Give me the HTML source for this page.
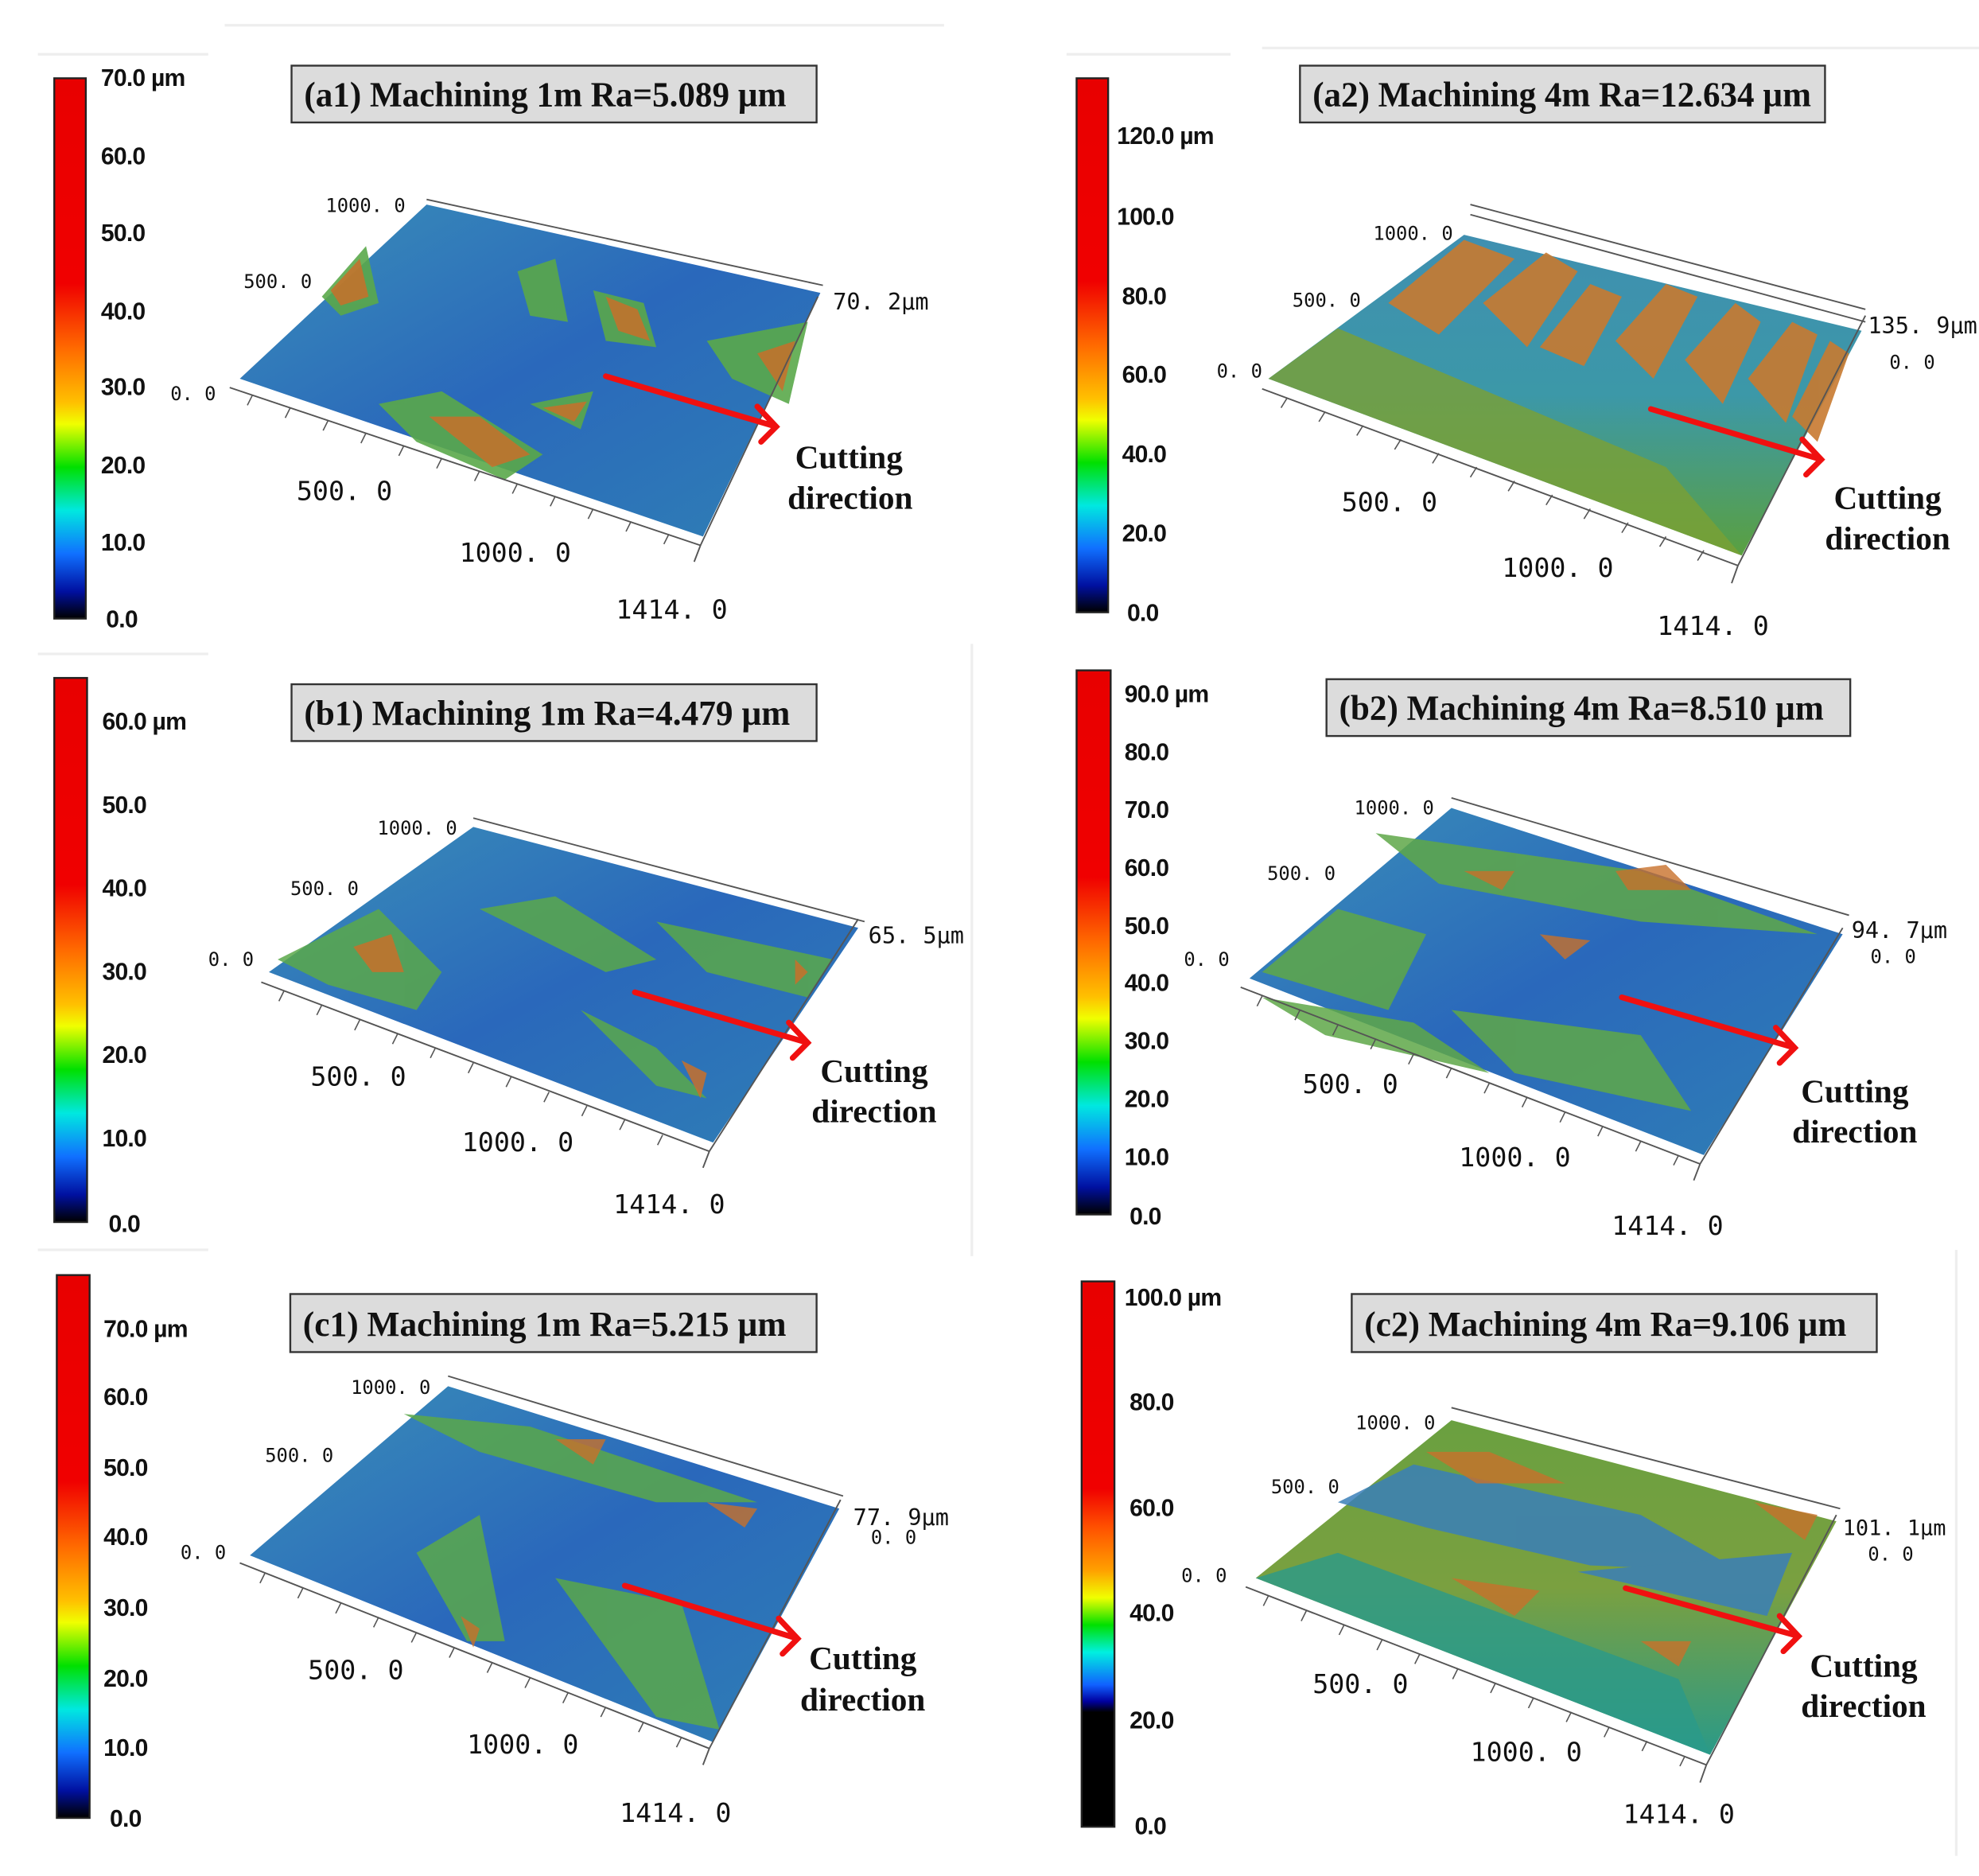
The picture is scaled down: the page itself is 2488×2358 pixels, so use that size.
<!DOCTYPE html>
<html><head><meta charset="utf-8"><style>
html,body{margin:0;padding:0;background:#fff}
svg{display:block}
.t{font-family:"Liberation Serif",serif;font-weight:bold;font-size:28px;fill:#111}
.cb{font-family:"Liberation Sans",sans-serif;font-weight:bold;font-size:19px;fill:#111;letter-spacing:-0.5px}
.ax{font-family:"DejaVu Sans Mono","Liberation Mono",monospace;font-size:21px;fill:#111}
.axs{font-family:"DejaVu Sans Mono","Liberation Mono",monospace;font-size:15px;fill:#111}
.cd{font-family:"Liberation Serif",serif;font-weight:bold;font-size:26px;fill:#111}
</style></head><body>
<svg width="2488" height="2358" viewBox="0 0 1568 1486" preserveAspectRatio="none" xmlns="http://www.w3.org/2000/svg">
<defs>
<linearGradient id="g1" x1="0" y1="0" x2="0" y2="1">
<stop offset="0" stop-color="#e80000"/><stop offset="0.38" stop-color="#f00000"/><stop offset="0.5" stop-color="#ff6a00"/><stop offset="0.6" stop-color="#ffc000"/><stop offset="0.64" stop-color="#f0ff00"/><stop offset="0.72" stop-color="#00e000"/><stop offset="0.8" stop-color="#00e8e0"/><stop offset="0.88" stop-color="#1070ff"/><stop offset="0.95" stop-color="#0010a0"/><stop offset="1" stop-color="#000"/>
</linearGradient>
<linearGradient id="g2" x1="0" y1="0" x2="0" y2="1">
<stop offset="0" stop-color="#e80000"/><stop offset="0.38" stop-color="#f00000"/><stop offset="0.45" stop-color="#ff5000"/><stop offset="0.53" stop-color="#ffa000"/><stop offset="0.58" stop-color="#f0ff00"/><stop offset="0.63" stop-color="#00e000"/><stop offset="0.68" stop-color="#00f0e0"/><stop offset="0.74" stop-color="#1060ff"/><stop offset="0.77" stop-color="#0000a0"/><stop offset="0.79" stop-color="#000"/><stop offset="1" stop-color="#000"/>
</linearGradient>
<linearGradient id="s1" x1="0" y1="0" x2="1" y2="1">
<stop offset="0" stop-color="#3a8fb8"/><stop offset="0.5" stop-color="#2a68bb"/><stop offset="1" stop-color="#2f7fb5"/>
</linearGradient>
<linearGradient id="s2" x1="0" y1="0" x2="0" y2="1">
<stop offset="0" stop-color="#3f8fb0"/><stop offset="0.5" stop-color="#3c98a8"/><stop offset="1" stop-color="#5aa040"/>
</linearGradient>
<linearGradient id="s3" x1="0" y1="0" x2="0" y2="1">
<stop offset="0" stop-color="#6aa040"/><stop offset="0.5" stop-color="#7aa040"/><stop offset="1" stop-color="#2a9a88"/>
</linearGradient>
</defs>
<rect width="1568" height="1486" fill="#fff"/>
<g stroke="#eee" stroke-width="2"><line x1="178" y1="20" x2="748" y2="20"/><line x1="30" y1="43" x2="165" y2="43"/><line x1="845" y1="43" x2="975" y2="43"/><line x1="1000" y1="38" x2="1568" y2="38"/><line x1="30" y1="518" x2="165" y2="518"/><line x1="30" y1="990" x2="165" y2="990"/><line x1="770" y1="510" x2="770" y2="995"/><line x1="1550" y1="990" x2="1550" y2="1470"/></g>

<g stroke="#222" stroke-width="1.5">
<rect x="43" y="62" width="25" height="428" fill="url(#g1)"/>
<rect x="853" y="62" width="25" height="423" fill="url(#g1)"/>
<rect x="43" y="537" width="26" height="431" fill="url(#g1)"/>
<rect x="853" y="531" width="27" height="431" fill="url(#g1)"/>
<rect x="45" y="1010" width="26" height="430" fill="url(#g1)"/>
<rect x="857" y="1015" width="26" height="432" fill="url(#g2)"/>
</g>
<g class="cb">
<text x="80" y="68">70.0 µm</text><text x="80" y="130">60.0</text><text x="80" y="191">50.0</text><text x="80" y="253">40.0</text><text x="80" y="313">30.0</text><text x="80" y="375">20.0</text><text x="80" y="436">10.0</text><text x="84" y="497">0.0</text>
<text x="885" y="114">120.0 µm</text><text x="885" y="178">100.0</text><text x="889" y="241">80.0</text><text x="889" y="303">60.0</text><text x="889" y="366">40.0</text><text x="889" y="429">20.0</text><text x="893" y="492">0.0</text>
<text x="81" y="578">60.0 µm</text><text x="81" y="644">50.0</text><text x="81" y="710">40.0</text><text x="81" y="776">30.0</text><text x="81" y="842">20.0</text><text x="81" y="908">10.0</text><text x="86" y="976">0.0</text>
<text x="891" y="556">90.0 µm</text><text x="891" y="602">80.0</text><text x="891" y="648">70.0</text><text x="891" y="694">60.0</text><text x="891" y="740">50.0</text><text x="891" y="785">40.0</text><text x="891" y="831">30.0</text><text x="891" y="877">20.0</text><text x="891" y="923">10.0</text><text x="895" y="970">0.0</text>
<text x="82" y="1059">70.0 µm</text><text x="82" y="1113">60.0</text><text x="82" y="1169">50.0</text><text x="82" y="1224">40.0</text><text x="82" y="1280">30.0</text><text x="82" y="1336">20.0</text><text x="82" y="1391">10.0</text><text x="87" y="1447">0.0</text>
<text x="891" y="1034">100.0 µm</text><text x="895" y="1117">80.0</text><text x="895" y="1201">60.0</text><text x="895" y="1284">40.0</text><text x="895" y="1369">20.0</text><text x="899" y="1453">0.0</text>
</g>

<g fill="#dcdcdc" stroke="#333" stroke-width="1.5">
<rect x="231" y="52" width="416" height="45"/><rect x="1030" y="52" width="416" height="45"/>
<rect x="231" y="542" width="416" height="45"/><rect x="1051" y="538" width="415" height="45"/>
<rect x="230" y="1025" width="417" height="46"/><rect x="1071" y="1025" width="416" height="46"/>
</g>
<g class="t">
<text x="241" y="84" textLength="382" lengthAdjust="spacingAndGlyphs">(a1)  Machining 1m Ra=5.089 µm</text>
<text x="1040" y="84" textLength="395" lengthAdjust="spacingAndGlyphs">(a2)  Machining 4m Ra=12.634 µm</text>
<text x="241" y="574" textLength="385" lengthAdjust="spacingAndGlyphs">(b1)  Machining 1m Ra=4.479 µm</text>
<text x="1061" y="570" textLength="384" lengthAdjust="spacingAndGlyphs">(b2)  Machining 4m Ra=8.510 µm</text>
<text x="240" y="1058" textLength="383" lengthAdjust="spacingAndGlyphs">(c1)  Machining 1m Ra=5.215 µm</text>
<text x="1081" y="1058" textLength="382" lengthAdjust="spacingAndGlyphs">(c2)  Machining 4m Ra=9.106 µm</text>
</g>

<polygon points="190,300 338,162 650,232 557,425" fill="url(#s1)"/>
<g fill="#5aa84a" opacity="0.9">
<polygon points="255,235 290,195 300,240 270,250"/><polygon points="410,215 440,205 450,255 420,250"/><polygon points="470,230 510,240 520,275 480,270"/>
<polygon points="300,320 350,310 430,360 400,380 330,350"/><polygon points="560,270 640,255 625,320 580,300"/><polygon points="420,320 470,310 460,340"/>
</g>
<g fill="#c8702a" opacity="0.85">
<polygon points="262,230 285,205 292,235 270,242"/><polygon points="480,235 505,245 515,270 490,262"/><polygon points="340,330 380,330 420,360 390,370"/><polygon points="430,323 465,318 455,334"/><polygon points="600,280 630,270 620,310"/>
</g>
<polygon points="1005,300 1160,186 1475,262 1380,440" fill="url(#s2)"/>
<g fill="#c87a30" opacity="0.9">
<polygon points="1100,240 1160,190 1200,205 1140,265"/><polygon points="1175,240 1225,200 1250,215 1210,275"/><polygon points="1220,275 1260,225 1285,235 1255,290"/>
<polygon points="1280,270 1320,225 1345,235 1310,300"/><polygon points="1335,285 1375,240 1395,255 1365,320"/><polygon points="1385,300 1420,255 1440,265 1415,335"/><polygon points="1420,330 1450,270 1465,280 1440,350"/>
</g>
<polygon points="1005,300 1060,260 1320,370 1380,440" fill="#7aa035" opacity="0.8"/>
<polygon points="213,770 375,655 680,735 565,905" fill="url(#s1)"/>
<g fill="#5aa84a" opacity="0.85">
<polygon points="220,760 300,720 350,770 330,800 260,780"/><polygon points="380,720 440,710 520,760 480,770"/><polygon points="460,800 520,830 560,870 520,860"/><polygon points="520,730 660,760 640,790 560,770"/>
</g>
<g fill="#c8702a" opacity="0.85"><polygon points="280,750 310,740 320,770 295,770"/><polygon points="540,840 560,850 555,870"/><polygon points="630,760 640,770 630,780"/></g>
<polygon points="990,775 1150,640 1460,740 1350,915" fill="url(#s1)"/>
<g fill="#5fa848" opacity="0.85">
<polygon points="1000,770 1060,720 1130,740 1100,800"/><polygon points="1090,660 1300,690 1440,740 1300,730 1140,700"/><polygon points="1150,800 1300,820 1340,880 1200,850"/><polygon points="1000,790 1120,810 1180,850 1050,820"/>
</g>
<g fill="#c8702a" opacity="0.8"><polygon points="1280,690 1320,685 1340,705 1290,705"/><polygon points="1160,690 1200,690 1190,705"/><polygon points="1220,740 1260,745 1240,760"/></g>
<polygon points="198,1232 355,1098 665,1195 565,1380" fill="url(#s1)"/>
<g fill="#5aa84a" opacity="0.85">
<polygon points="320,1120 420,1130 600,1190 520,1190 380,1150"/><polygon points="330,1230 380,1200 400,1300 370,1300"/><polygon points="440,1250 540,1270 570,1370 520,1360"/>
</g>
<g fill="#c8702a" opacity="0.8"><polygon points="440,1140 480,1140 470,1160"/><polygon points="560,1190 600,1195 590,1210"/><polygon points="365,1280 380,1290 375,1305"/></g>
<polygon points="995,1250 1150,1125 1455,1205 1355,1390" fill="url(#s3)"/>
<g fill="#3a7fb8" opacity="0.85"><polygon points="1060,1190 1120,1160 1300,1200 1380,1245 1260,1240 1130,1210"/><polygon points="1250,1245 1420,1230 1400,1280"/></g>
<g fill="#c8702a" opacity="0.8"><polygon points="1130,1150 1180,1150 1240,1175 1170,1175"/><polygon points="1390,1190 1440,1200 1430,1220"/><polygon points="1150,1250 1220,1260 1200,1280"/><polygon points="1300,1300 1340,1300 1330,1320"/></g>
<polygon points="995,1250 1060,1230 1330,1330 1355,1390" fill="#2a9a8a" opacity="0.8"/>

<g stroke="#555" stroke-width="1.2" fill="none">
<path d="M182,307 L555,432 M555,432 L648,235 M338,158 L652,226 M555,432 L550,445"/>
<path d="M1000,308 L1377,448 M1377,448 L1478,250 M1165,162 L1478,245 M1165,170 L1478,255 M1377,448 L1372,462"/>
<path d="M207,778 L562,912 M562,912 L680,728 M375,648 L685,730 M562,912 L557,925"/>
<path d="M983,782 L1347,922 M1347,922 L1460,735 M1150,632 L1465,725 M1347,922 L1342,935"/>
<path d="M190,1238 L562,1385 M562,1385 L666,1188 M355,1090 L668,1185 M562,1385 L557,1398"/>
<path d="M987,1257 L1352,1398 M1352,1398 L1455,1200 M1150,1115 L1458,1195 M1352,1398 L1347,1412"/>
</g>
<g stroke="#555" stroke-width="1">
<path d="M200,313l-4,8M230,323l-4,8M260,333l-4,8M290,343l-4,8M320,353l-4,8M350,363l-4,8M380,373l-4,8M410,383l-4,8M440,393l-4,8M470,403l-4,8M500,413l-4,8M530,423l-4,8"/>
<path d="M1020,315l-5,8M1050,326l-5,8M1080,337l-5,8M1110,348l-5,8M1140,359l-5,8M1170,370l-5,8M1200,381l-5,8M1230,392l-5,8M1260,403l-5,8M1290,414l-5,8M1320,425l-5,8M1350,436l-5,8"/>
<path d="M225,785l-4,8M255,796l-4,8M285,808l-4,8M315,819l-4,8M345,830l-4,8M375,842l-4,8M405,853l-4,8M435,865l-4,8M465,876l-4,8M495,887l-4,8M525,899l-4,8"/>
<path d="M1000,789l-4,8M1030,800l-4,8M1060,812l-4,8M1090,823l-4,8M1120,835l-4,8M1150,846l-4,8M1180,858l-4,8M1210,869l-4,8M1240,881l-4,8M1270,892l-4,8M1300,904l-4,8M1330,915l-4,8"/>
<path d="M210,1246l-4,8M240,1258l-4,8M270,1270l-4,8M300,1281l-4,8M330,1293l-4,8M360,1305l-4,8M390,1317l-4,8M420,1329l-4,8M450,1341l-4,8M480,1352l-4,8M510,1364l-4,8M540,1376l-4,8"/>
<path d="M1005,1264l-4,8M1035,1276l-4,8M1065,1287l-4,8M1095,1299l-4,8M1125,1310l-4,8M1155,1322l-4,8M1185,1333l-4,8M1215,1345l-4,8M1245,1356l-4,8M1275,1368l-4,8M1305,1379l-4,8M1335,1391l-4,8"/>
</g>

<g class="axs">
<text x="258" y="168">1000. 0</text><text x="193" y="228">500. 0</text><text x="135" y="317">0. 0</text><text x="660" y="245" font-size="18">70. 2μm</text>
<text x="1088" y="190">1000. 0</text><text x="1024" y="243">500. 0</text><text x="964" y="299">0. 0</text><text x="1480" y="264" font-size="18">135. 9μm</text><text x="1497" y="292">0. 0</text>
<text x="299" y="661">1000. 0</text><text x="230" y="709">500. 0</text><text x="165" y="765">0. 0</text><text x="688" y="747" font-size="18">65. 5μm</text>
<text x="1073" y="645">1000. 0</text><text x="1004" y="697">500. 0</text><text x="938" y="765">0. 0</text><text x="1467" y="743" font-size="18">94. 7μm</text><text x="1482" y="763">0. 0</text>
<text x="278" y="1104">1000. 0</text><text x="210" y="1158">500. 0</text><text x="143" y="1235">0. 0</text><text x="676" y="1208" font-size="18">77. 9μm</text><text x="690" y="1223">0. 0</text>
<text x="1074" y="1132">1000. 0</text><text x="1007" y="1183">500. 0</text><text x="936" y="1253">0. 0</text><text x="1460" y="1216" font-size="17">101. 1μm</text><text x="1480" y="1236">0. 0</text>
</g>
<g class="ax">
<text x="235" y="396">500. 0</text><text x="364" y="445">1000. 0</text><text x="488" y="490">1414. 0</text>
<text x="1063" y="405">500. 0</text><text x="1190" y="457">1000. 0</text><text x="1313" y="503">1414. 0</text>
<text x="246" y="860">500. 0</text><text x="366" y="912">1000. 0</text><text x="486" y="961">1414. 0</text>
<text x="1032" y="866">500. 0</text><text x="1156" y="924">1000. 0</text><text x="1277" y="978">1414. 0</text>
<text x="244" y="1330">500. 0</text><text x="370" y="1389">1000. 0</text><text x="491" y="1443">1414. 0</text>
<text x="1040" y="1341">500. 0</text><text x="1165" y="1395">1000. 0</text><text x="1286" y="1444">1414. 0</text>
</g>

<g stroke="#f01010" stroke-width="4.5" fill="none" stroke-linecap="round">
<path d="M480,298 L615,338 M600,322 L615,338 L603,350"/>
<path d="M1308,324 L1443,364 M1428,348 L1443,364 L1431,376"/>
<path d="M503,786 L640,826 M625,810 L640,826 L628,838"/>
<path d="M1285,790 L1422,830 M1407,814 L1422,830 L1410,842"/>
<path d="M495,1256 L632,1298 M617,1282 L632,1298 L620,1310"/>
<path d="M1288,1258 L1425,1296 M1410,1280 L1425,1296 L1413,1308"/>
</g>
<g class="cd">
<text x="630" y="371">Cutting</text><text x="624" y="403">direction</text>
<text x="1453" y="403">Cutting</text><text x="1446" y="435">direction</text>
<text x="650" y="857">Cutting</text><text x="643" y="889">direction</text>
<text x="1427" y="873">Cutting</text><text x="1420" y="905">direction</text>
<text x="641" y="1322">Cutting</text><text x="634" y="1355">direction</text>
<text x="1434" y="1328">Cutting</text><text x="1427" y="1360">direction</text>
</g>
</svg>
</body></html>
